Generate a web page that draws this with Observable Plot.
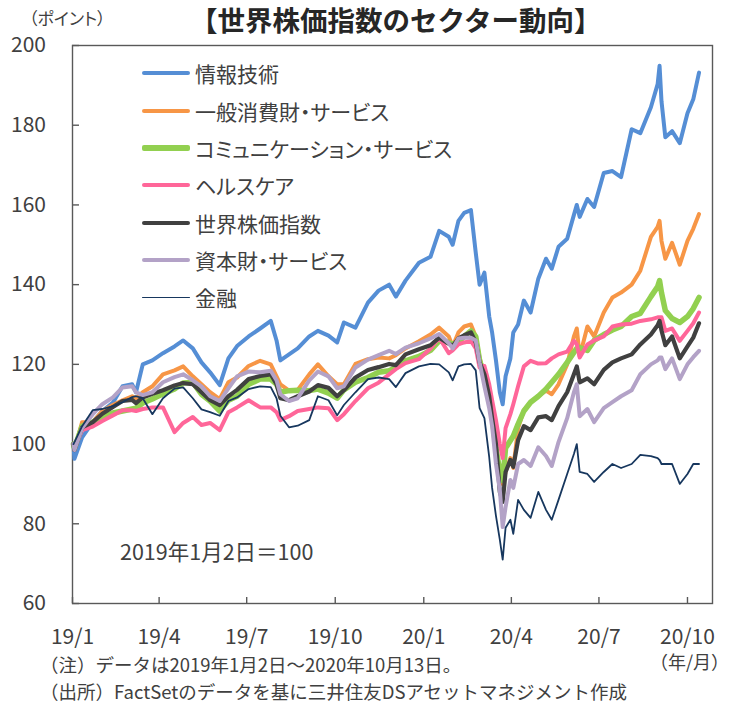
<!DOCTYPE html>
<html><head><meta charset="utf-8">
<script src="https://cdn.jsdelivr.net/npm/d3@7"></script>
<script src="https://cdn.jsdelivr.net/npm/@observablehq/plot@0.6"></script>
<style>
body{margin:0;background:#fff;}
#wrap{position:relative;width:733px;height:706px;font-family:"Noto Sans CJK JP","Noto Sans",sans-serif;color:#404040;}
.t{position:absolute;white-space:nowrap;}
.p{font-feature-settings:"palt" 1;}
#wrap svg{position:absolute;left:0;top:0;}
</style></head><body><div id="wrap"></div>
<script>
const dates = ["2019-01-02","2019-01-03","2019-01-11","2019-01-22","2019-02-01","2019-02-12","2019-02-22","2019-03-04","2019-03-08","2019-03-15",
"2019-03-25","2019-04-05","2019-04-17","2019-04-26","2019-05-06","2019-05-15","2019-05-24","2019-06-03","2019-06-12","2019-06-21",
"2019-07-03","2019-07-15","2019-07-26","2019-08-01","2019-08-05","2019-08-14","2019-08-23","2019-09-04","2019-09-13","2019-09-24",
"2019-10-03","2019-10-10","2019-10-22","2019-11-04","2019-11-15","2019-11-26","2019-12-03","2019-12-13","2019-12-27","2020-01-08",
"2020-01-17","2020-01-27","2020-01-31","2020-02-06","2020-02-12","2020-02-19","2020-02-24","2020-02-28","2020-03-04","2020-03-09",
"2020-03-12","2020-03-16","2020-03-20","2020-03-23","2020-03-26","2020-03-31","2020-04-03","2020-04-08","2020-04-14","2020-04-21",
"2020-04-29","2020-05-07","2020-05-13","2020-05-20","2020-05-29","2020-06-05","2020-06-08","2020-06-11","2020-06-19","2020-06-26",
"2020-07-06","2020-07-15","2020-07-24","2020-08-04","2020-08-13","2020-08-24","2020-08-31","2020-09-02","2020-09-04","2020-09-08",
"2020-09-15","2020-09-23","2020-10-01","2020-10-07","2020-10-13"];

const infoTech = [100,96.3,101.7,105.5,108.3,110.4,114.5,115,113,120,
121,122.8,124.5,126,124,120.5,118,114.8,121.5,124.6,
127,129,130.9,126,121,122.5,124,127,128.4,127.2,
125.5,130.5,129.2,135.5,138.5,140,137,141,145.5,147,
153.5,152,150,156,158,158.7,148,140,143,132,
128,121,113,110,117,121.5,128,130,136,133,
141.5,146.5,144,149.5,151.5,157.5,160,157,161.5,159.5,
168,168.5,167,179,178,184.5,190.3,194.9,186,177,
178.5,175.5,183,186.5,193.2];

const consDisc = [100,98.5,105.5,105.5,108.3,109.8,111,112,111.5,113,
114.5,117.5,118.5,119.5,117,115,113,111.3,115.5,116.7,
119.6,120.9,120,117,115,113.4,113.6,117.5,120,117,
115,115,120.1,121.3,121.7,121.5,122.3,124,125.8,127.5,
129.2,127,124.5,128,129.5,130,127,121.5,117.5,111.7,
106,99,93,90,93,96.5,94,104,108.5,110.5,
112,113.4,112.5,115,120,127,129,122,129.5,127,
133,136.8,138,140,143.5,152,154.5,156,151,146.5,
150.5,145,151,154,157.7];

const commSvc = [100,99,104.5,105.5,106.8,107.8,108.3,108.8,109,110.3,
111.3,112.6,113.8,115.3,115.5,112.5,110.8,108.3,111,112,
115,116.3,116.3,115,113,113.4,113.5,113.4,113.8,112.8,
111.5,113.6,115.5,116.7,118,118.4,119.2,120.9,122,123.5,
125.9,125.5,125,125.5,127,128.4,127,121,117,111.7,
107,99,93,90.9,99,100.9,102,105,108.3,110.5,
112,113.8,115.5,117.5,120.5,123,124,124.2,123.5,126,
127.5,128.6,129.5,132,132.8,137,139.5,141,138,133.5,
131.5,130.5,132,134,136.8];

const healthCare = [100,99,103.5,104.4,105.8,107.2,108.5,108.5,108.3,108.8,
109.2,109.2,103,105.3,106.8,104.8,105.3,103.5,108,109.2,
111,109.2,109.2,108,106,107,108.3,108.8,109.2,109,
106,107.5,110.8,114,115.4,117.5,118.8,120.3,121.3,124,
126.7,122.8,123.5,125,125.5,125.9,124,119.2,119.6,115,
111,106,100,96.5,104,107.5,110,114.5,119.5,120.9,
120.2,120.3,121.5,122.5,123.2,125.9,125,121.7,125,126,
127,129.5,130,130.2,130.9,131.3,131.8,131.8,131.8,128.4,
129,125.9,128.4,130.3,133];

const world = [100,98.5,104.2,105.5,107.6,109.3,110.8,111.1,110.3,111.7,
112.6,113.5,114.7,115.3,115,113,111,109.8,112,113.6,
116.3,117.1,117.5,115,111.5,111,112,113.2,114.8,114.1,
112,113.5,116.7,118.6,119.3,120.1,119.8,122.5,123.8,124.8,
126.7,125.2,124.6,126.5,127.3,128,125.5,120.5,117.5,112,
106.5,100,88,85.5,93,96,94.3,101,104.5,103.5,
106.7,107,106,109.5,113,117.5,119.5,115.5,116.5,115,
118.6,120.5,121.5,122.5,125,127.5,129.8,130.9,128.5,124.8,
127,121.5,124.5,126.7,130.3];

const industrials = [100,98.5,104,107.5,110,111.7,114.2,114.5,113,112.3,
113,115.5,116.8,117.5,116,114.5,112,110.8,114,117,
118.2,118,118.4,116,112.5,110.8,111.5,116,118.2,117,
114,114.5,119.2,121.2,122.3,123.4,122.6,124.2,125.3,126.5,
127.6,125.3,124,126.5,126.7,126.7,126,120.5,114.5,109,
104.5,95,88.5,79.2,84.2,91,89,95,96,94.5,
99.2,97,94.5,100.5,106.5,113,115,107,108.8,105.5,
109,110.5,112,113.5,117.5,120,121,121.7,121.7,118.8,
121.5,116.3,120,121.8,123.4];

const financials = [100,100.5,104.5,108.5,108.8,109.5,110.5,111.8,112,111.5,
107.5,111.5,113.9,114.2,111.5,108.7,108,107.1,110.8,111.7,
113.8,114.5,114.3,111.5,107.1,104.2,104.6,106,112,111,
107.2,109.8,113,116.3,116.7,116.3,114.3,117.8,119.5,120.1,
120,118,116,119.5,120,120.1,118.5,109,106.5,96.7,
89,82,76,71,79,81,77.5,86,83.5,81.5,
88,83.5,81,86,92.5,97.5,100,93,92.5,90.5,
93,95,94,95,97.3,97,96.5,96,95,95,
95,90,92.5,95,95];

const seriesNames = ["情報技術","一般消費財・サービス","コミュニケーション・サービス","ヘルスケア","世界株価指数","資本財・サービス","金融"];
const seriesValues = [infoTech, consDisc, commSvc, healthCare, world, industrials, financials];
const seriesColors = ["#558ED5","#F79646","#92D050","#FF6699","#404040","#B3A2C7","#17375E"];
const seriesWidths = [4,4,5.5,4,4.2,4,1.8];

const xTickDates = ["2019-01-01","2019-04-01","2019-07-01","2019-10-01","2020-01-01","2020-04-01","2020-07-01","2020-10-01"];
const xTickLabels = ["19/1","19/4","19/7","19/10","20/1","20/4","20/7","20/10"];
const yTicks = [60,80,100,120,140,160,180,200];

const title = "【世界株価指数のセクター動向】";
const unitLabel = "（ポイント）";
const baseNote = "2019年1月2日＝100";
const xUnit = "（年/月）";
const note1 = "（注）データは2019年1月2日～2020年10月13日。";
const note2 = "（出所）FactSetのデータを基に三井住友DSアセットマネジメント作成";

const labelMap = new Map(xTickDates.map((d, i) => [+new Date(d), xTickLabels[i]]));
const font = '"Noto Sans CJK JP","Noto Sans",sans-serif';

const lineMarks = seriesValues.map((vals, s) =>
  Plot.line(dates.map((d, i) => ({date: new Date(d), value: vals[i]})), {
    x: "date", y: "value", stroke: seriesColors[s], strokeWidth: seriesWidths[s],
    strokeLinejoin: "round", strokeLinecap: "round"
  })
);

const chart = Plot.plot({
  width: 733, height: 706,
  marginLeft: 72, marginRight: 21, marginTop: 45, marginBottom: 103,
  style: {fontFamily: font, fontSize: "21px", color: "#404040", background: "transparent"},
  x: {type: "utc", domain: [new Date("2019-01-01"), new Date("2020-10-27")]},
  y: {domain: [60, 200]},
  marks: [
    Plot.frame({stroke: "#595959", strokeWidth: 1.4}),
    Plot.axisY({ticks: yTicks, tickSize: -7, tickPadding: 33.5, label: null, stroke: "#595959", strokeWidth: 1.4, fill: "#404040"}),
    Plot.axisX({ticks: xTickDates.map(d => new Date(d)), tickFormat: d => labelMap.get(+d), tickSize: -6, tickPadding: 32, label: null, stroke: "#595959", strokeWidth: 1.4, fill: "#404040"}),
    ...lineMarks
  ]
});

const wrap = document.getElementById("wrap");
wrap.appendChild(chart);

function addText(txt, left, centerY, size, lh, extra, cls) {
  const el = document.createElement("div");
  el.className = "t" + (cls ? " " + cls : "");
  el.textContent = txt;
  el.style.left = left + "px";
  el.style.lineHeight = String(lh);
  el.style.top = (centerY - size * lh / 2) + "px";
  el.style.fontSize = size + "px";
  if (extra) Object.assign(el.style, extra);
  wrap.appendChild(el);
  return el;
}

addText(title, 190, 19, 27.5, 1.25, {fontWeight: "bold", color: "#262626"});
addText(unitLabel, 29, 18, 17, 1.2, null, "p");
addText(baseNote, 120, 551, 21.5, 1.2);
addText(xUnit, 650, 662, 18, 1.1);
addText(note1, 40, 664, 18.5, 1.1);
addText(note2, 40, 691.5, 18.5, 1.1);

// legend
const legendTop = 73.3, legendStep = 37.35;
seriesNames.forEach((name, i) => {
  const y = legendTop + i * legendStep;
  const ln = document.createElement("div");
  ln.style.position = "absolute";
  ln.style.left = "142px";
  ln.style.width = "48px";
  ln.style.height = seriesWidths[i] + "px";
  ln.style.top = (y - seriesWidths[i] / 2) + "px";
  ln.style.background = seriesColors[i];
  ln.style.borderRadius = "2px";
  wrap.appendChild(ln);
  addText(name, 195, y + 0.5, 21, 1.2, null, "p");
});
</script></body></html>
